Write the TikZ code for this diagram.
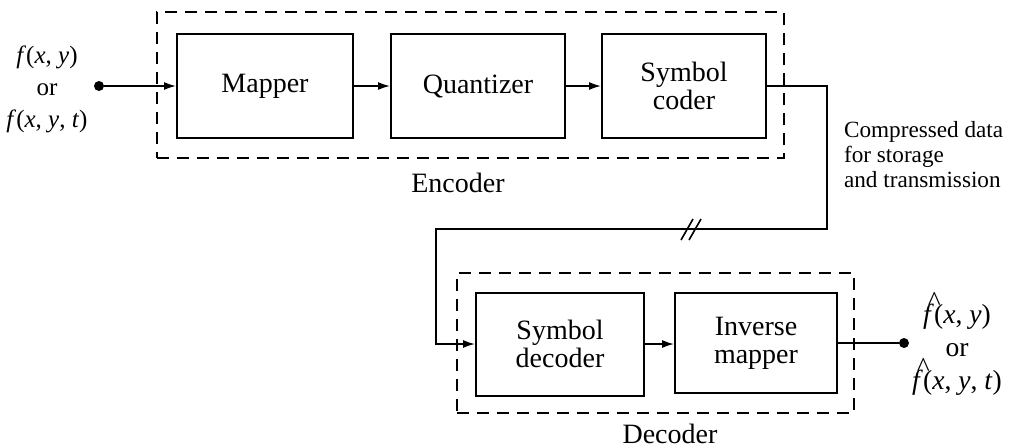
\documentclass[tikz,border=0pt]{standalone}
\usepackage{fontspec}
\setmainfont{Liberation Serif}
\usetikzlibrary{arrows.meta}
\newcommand{\fhat}{\textit{f}\llap{\raisebox{0.5em}{\^{}}\kern-0.24em}}

\begin{document}
\begin{tikzpicture}[x=0.5pt,y=0.5pt,yscale=-1,xscale=1,
  block/.style={draw, line width=1pt, align=center, inner sep=0pt, minimum height=52pt, font=\fontsize{14}{14}\selectfont},
  group/.style={draw, line width=0.9pt, dash pattern={on 6pt off 4pt}, inner sep=0pt},
  flow/.style={line width=0.8pt, -{Latex[length=6pt,width=4pt]}},
  wire/.style={line width=0.8pt},
  dot/.style={circle, fill, inner sep=0pt, minimum size=5pt},
  lbl/.style={font=\fontsize{14}{14}\selectfont}]
\useasboundingbox (0,0) rectangle (1011,447);

%Shape: Dashed Rectangle [encoder]
\node[group, minimum width=313.5pt, minimum height=73pt] (enc) at (470.5,85) {};
%Shape: Dashed Rectangle [decoder]
\node[group, minimum width=198.5pt, minimum height=70pt] (dec) at (655.5,343) {};

%Shape: Rectangle
\node[block, minimum width=88pt] (mapper) at (265,86) {Mapper};
%Shape: Rectangle
\node[block, minimum width=87pt] (quant) at (478,86) {Quantizer};
%Shape: Rectangle
\node[block, minimum width=82pt] (coder) at (684,86) {Symbol\\coder};
%Shape: Rectangle
\node[block, minimum width=84pt, minimum height=51.5pt] (sdec) at (560,344) {Symbol\\decoder};
%Shape: Rectangle
\node[block, minimum width=81pt, minimum height=50pt] (imap) at (756,343) {Inverse\\mapper};

%Shape: Circle
\node[dot] (in) at (99,86) {};
\node[dot] (out) at (904,343) {};

%Straight Lines
\draw[flow] (in) -- (mapper);
\draw[flow] (mapper) -- (quant);
\draw[flow] (quant) -- (coder);
\draw[flow] (sdec) -- (imap.west |- sdec);
\draw[wire] (imap) -- (out);

%Channel
\coordinate (down) at (827,229);
\coordinate (back) at (436,229);
\draw[flow] (coder.east) -| (down) -- (back) |- (sdec.west);
\draw[wire] (681,240) -- (693,219) (689,240) -- (701,219);

% Text Node
\node[align=center, font=\fontsize{12.5}{16}\selectfont] (src) at (47,89) {\textit{f}(\textit{x}, \textit{y})\\or\\\textit{f}(\textit{x}, \textit{y}, \textit{t})};
% Text Node
\node[align=center, font=\fontsize{13.8}{16.5}\selectfont] (dst) at (957,344) {\fhat(\textit{x}, \textit{y})\\or\\\fhat(\textit{x}, \textit{y}, \textit{t})};
% Text Node
\node[anchor=west, align=left, font=\fontsize{11.6}{12.5}\selectfont] (msg) at (837,155) {Compressed data\\for storage\\and transmission};
% Text Node
\node[lbl] (enclbl) at (458,183) {Encoder};
% Text Node
\node[lbl] (declbl) at (670,434) {Decoder};

\end{tikzpicture}
\end{document}
